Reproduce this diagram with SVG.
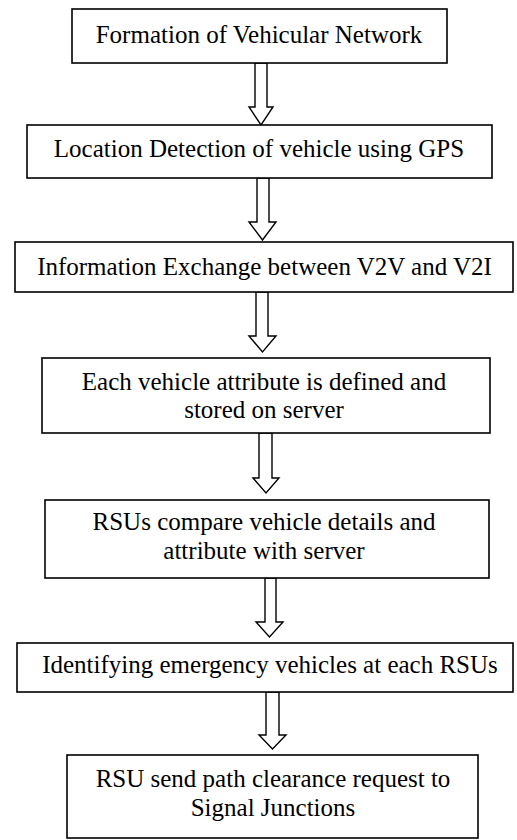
<svg xmlns="http://www.w3.org/2000/svg" width="517" height="840" viewBox="0 0 517 840">
  <style>
    .box { fill: #ffffff; stroke: #000000; stroke-width: 1.6; }
    .arrow { fill: #ffffff; stroke: #000000; stroke-width: 1.4; stroke-linejoin: miter; }
    text { font-family: 'Liberation Serif', 'Times New Roman', Times, serif; font-size: 25px; fill: #000000; text-anchor: middle; }
  </style>
  <rect width="517" height="840" fill="#ffffff"/>

  <!-- hollow block arrows between steps -->
  <g id="connectors">
    <polygon class="arrow" points="255,63 267,63 267,107 273,107 261,125 249,107 255,107"/>
    <polygon class="arrow" points="257,178 269,178 269,222 276,222 262.5,240 249,222 257,222"/>
    <polygon class="arrow" points="256,292 268,292 268,336 276,336 262.5,352 249,336 256,336"/>
    <polygon class="arrow" points="259,433 272,433 272,478 279,478 266,493 253,478 259,478"/>
    <polygon class="arrow" points="265,578 276,578 276,622 283,622 269.5,637 256,622 265,622"/>
    <polygon class="arrow" points="266,692 279,692 279,735 286,735 272.5,749 259,735 266,735"/>
  </g>

  <g id="step1">
    <rect class="box" x="72" y="9" width="375" height="54"/>
    <text x="259" y="43">Formation of Vehicular Network</text>
  </g>

  <g id="step2">
    <rect class="box" x="27" y="125" width="465" height="53"/>
    <text x="259" y="157">Location Detection of vehicle using GPS</text>
  </g>

  <g id="step3">
    <rect class="box" x="15" y="242" width="498" height="50"/>
    <text x="264.5" y="275">Information Exchange between V2V and V2I</text>
  </g>

  <g id="step4">
    <rect class="box" x="42" y="358" width="448" height="75"/>
    <text x="264" y="390">Each vehicle attribute is defined and</text>
    <text x="264" y="418">stored on server</text>
  </g>

  <g id="step5">
    <rect class="box" x="45" y="500" width="444" height="78"/>
    <text x="264" y="530">RSUs compare vehicle details and</text>
    <text x="264" y="559">attribute with server</text>
  </g>

  <g id="step6">
    <rect class="box" x="17" y="643" width="496" height="49"/>
    <text x="270" y="673">Identifying emergency vehicles at each RSUs</text>
  </g>

  <g id="step7">
    <rect class="box" x="67" y="755" width="411" height="83"/>
    <text x="273" y="787">RSU send path clearance request to</text>
    <text x="273" y="816">Signal Junctions</text>
  </g>
</svg>
